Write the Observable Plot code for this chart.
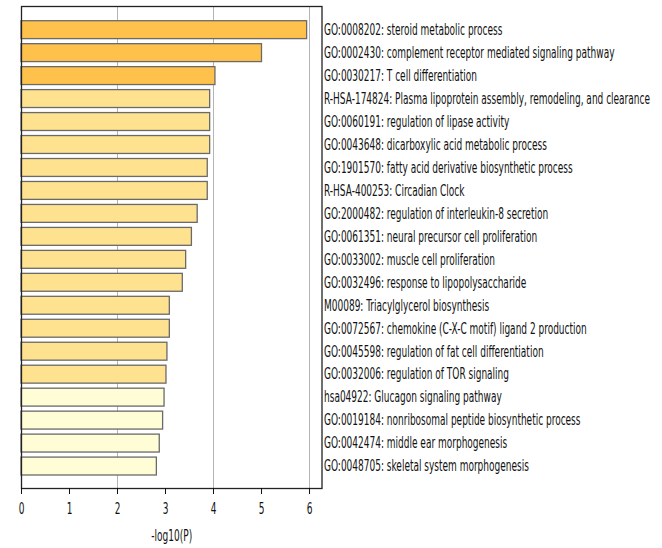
<!DOCTYPE html>
<html>
<head>
<meta charset="utf-8">
<script src="https://cdn.jsdelivr.net/npm/d3@7"></script>
<script src="https://cdn.jsdelivr.net/npm/@observablehq/plot@0.6"></script>
<style>
  html, body { margin: 0; padding: 0; background: #fff; }
  #chart svg { display: block; }
</style>
</head>
<body>
<div id="chart"></div>
<script>
// Enriched terms, top to bottom
const terms = [
  "GO:0008202: steroid metabolic process",
  "GO:0002430: complement receptor mediated signaling pathway",
  "GO:0030217: T cell differentiation",
  "R-HSA-174824: Plasma lipoprotein assembly, remodeling, and clearance",
  "GO:0060191: regulation of lipase activity",
  "GO:0043648: dicarboxylic acid metabolic process",
  "GO:1901570: fatty acid derivative biosynthetic process",
  "R-HSA-400253: Circadian Clock",
  "GO:2000482: regulation of interleukin-8 secretion",
  "GO:0061351: neural precursor cell proliferation",
  "GO:0033002: muscle cell proliferation",
  "GO:0032496: response to lipopolysaccharide",
  "M00089: Triacylglycerol biosynthesis",
  "GO:0072567: chemokine (C-X-C motif) ligand 2 production",
  "GO:0045598: regulation of fat cell differentiation",
  "GO:0032006: regulation of TOR signaling",
  "hsa04922: Glucagon signaling pathway",
  "GO:0019184: nonribosomal peptide biosynthetic process",
  "GO:0042474: middle ear morphogenesis",
  "GO:0048705: skeletal system morphogenesis"
];

// -log10(P) for each term
const logP = [5.95, 5.01, 4.04, 3.93, 3.93, 3.93, 3.88, 3.88, 3.67, 3.55,
              3.43, 3.36, 3.09, 3.09, 3.04, 3.02, 2.98, 2.95, 2.88, 2.82];

const xTicks = [0, 1, 2, 3, 4, 5, 6];
const gridValues = [2, 4, 6];

// significance bins: < 3, 3–4, ≥ 4
const binEdges = [3, 4];
const binColors = ["#fefdd6", "#fee28f", "#fec24c"];

const rows = terms.map((term, i) => ({term, value: logP[i]}));

const svg = Plot.plot({
  width: 662,
  height: 548,
  marginLeft: 21,
  marginRight: 340.5,
  marginTop: 6,
  marginBottom: 60,
  style: {fontFamily: "'DejaVu Sans Condensed', 'DejaVu Sans', sans-serif", fontSize: "15px", color: "#111", background: "#fff"},
  x: {domain: [0, 6.26], ticks: xTicks, label: null},
  y: {domain: terms, range: [20.7, 475], paddingInner: 0.22, paddingOuter: 0, round: false, label: null},
  color: {type: "threshold", domain: binEdges, range: binColors},
  marks: [
    Plot.ruleX(gridValues, {stroke: "#b4b4b4", strokeWidth: 1}),
    Plot.barX(rows, {
      x: "value", y: "term", fill: "value",
      stroke: "#6a6a6a", strokeWidth: 1.3
    }),
    Plot.frame({stroke: "#222", strokeWidth: 1.3}),
    Plot.axisX({ticks: xTicks, tickSize: 6, tickPadding: 9, tickFormat: d3.format("d"),
                label: "-log10(P)", labelAnchor: "center", labelOffset: 52, labelArrow: false}),
    Plot.axisY({anchor: "right", tickSize: 0, tickPadding: 2, label: null, textAnchor: "start"})
  ]
});

// narrow the lettering horizontally around each label's anchor point
const squeeze = 0.667;
svg.querySelectorAll("text").forEach(t => {
  const xa = t.getAttribute("x");
  const x = xa !== null && isFinite(+xa) ? +xa : 0;
  if (xa !== null && isFinite(+xa)) t.removeAttribute("x");
  const tr = t.getAttribute("transform") || "";
  t.setAttribute("transform", `${tr} translate(${x},0) scale(${squeeze},1)`);
});

document.getElementById("chart").appendChild(svg);
</script>
</body>
</html>
